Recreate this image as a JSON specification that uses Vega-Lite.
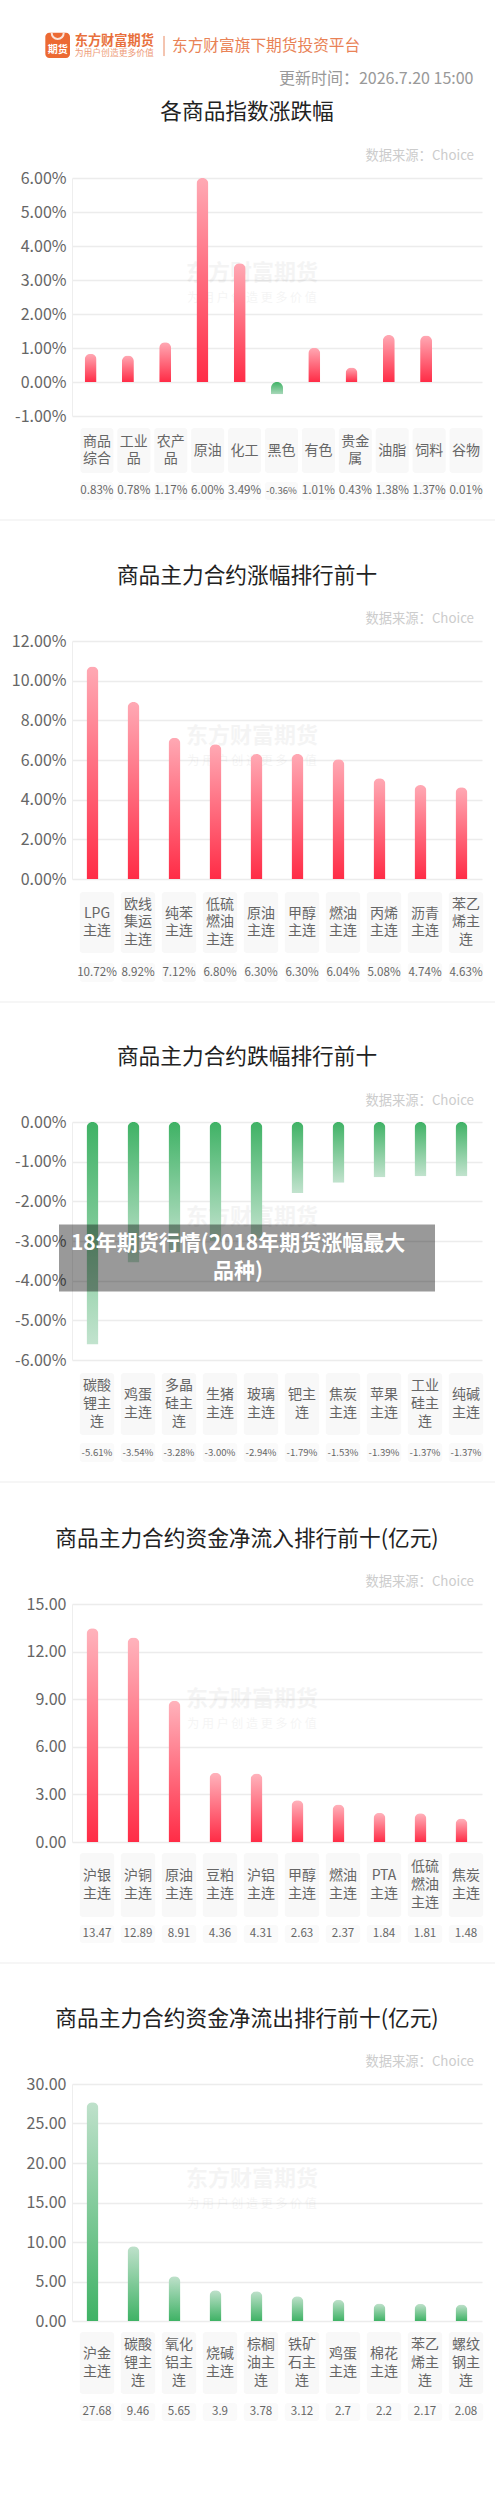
{"$schema":"https://vega.github.io/schema/vega-lite/v6.json","padding":0,"spacing":0,"bounds":"flush","background":"white","config":{"font":"Noto Sans CJK SC","view":{"stroke":null}},
"datasets":{
"p1":[{"name":"商品\n综合","v":0.83,"t":"0.83%"},{"name":"工业\n品","v":0.78,"t":"0.78%"},{"name":"农产\n品","v":1.17,"t":"1.17%"},{"name":"原油","v":6.0,"t":"6.00%"},{"name":"化工","v":3.49,"t":"3.49%"},{"name":"黑色","v":-0.36,"t":"-0.36%"},{"name":"有色","v":1.01,"t":"1.01%"},{"name":"贵金\n属","v":0.43,"t":"0.43%"},{"name":"油脂","v":1.38,"t":"1.38%"},{"name":"饲料","v":1.37,"t":"1.37%"},{"name":"谷物","v":0.01,"t":"0.01%"}],
"p2":[{"name":"LPG\n主连","v":10.72,"t":"10.72%"},{"name":"欧线\n集运\n主连","v":8.92,"t":"8.92%"},{"name":"纯苯\n主连","v":7.12,"t":"7.12%"},{"name":"低硫\n燃油\n主连","v":6.8,"t":"6.80%"},{"name":"原油\n主连","v":6.3,"t":"6.30%"},{"name":"甲醇\n主连","v":6.3,"t":"6.30%"},{"name":"燃油\n主连","v":6.04,"t":"6.04%"},{"name":"丙烯\n主连","v":5.08,"t":"5.08%"},{"name":"沥青\n主连","v":4.74,"t":"4.74%"},{"name":"苯乙\n烯主\n连","v":4.63,"t":"4.63%"}],
"p3":[{"name":"碳酸\n锂主\n连","v":-5.61,"t":"-5.61%"},{"name":"鸡蛋\n主连","v":-3.54,"t":"-3.54%"},{"name":"多晶\n硅主\n连","v":-3.28,"t":"-3.28%"},{"name":"生猪\n主连","v":-3.0,"t":"-3.00%"},{"name":"玻璃\n主连","v":-2.94,"t":"-2.94%"},{"name":"钯主\n连","v":-1.79,"t":"-1.79%"},{"name":"焦炭\n主连","v":-1.53,"t":"-1.53%"},{"name":"苹果\n主连","v":-1.39,"t":"-1.39%"},{"name":"工业\n硅主\n连","v":-1.37,"t":"-1.37%"},{"name":"纯碱\n主连","v":-1.37,"t":"-1.37%"}],
"p4":[{"name":"沪银\n主连","v":13.47,"t":"13.47"},{"name":"沪铜\n主连","v":12.89,"t":"12.89"},{"name":"原油\n主连","v":8.91,"t":"8.91"},{"name":"豆粕\n主连","v":4.36,"t":"4.36"},{"name":"沪铝\n主连","v":4.31,"t":"4.31"},{"name":"甲醇\n主连","v":2.63,"t":"2.63"},{"name":"燃油\n主连","v":2.37,"t":"2.37"},{"name":"PTA\n主连","v":1.84,"t":"1.84"},{"name":"低硫\n燃油\n主连","v":1.81,"t":"1.81"},{"name":"焦炭\n主连","v":1.48,"t":"1.48"}],
"p5":[{"name":"沪金\n主连","v":27.68,"t":"27.68"},{"name":"碳酸\n锂主\n连","v":9.46,"t":"9.46"},{"name":"氧化\n铝主\n连","v":5.65,"t":"5.65"},{"name":"烧碱\n主连","v":3.9,"t":"3.9"},{"name":"棕榈\n油主\n连","v":3.78,"t":"3.78"},{"name":"铁矿\n石主\n连","v":3.12,"t":"3.12"},{"name":"鸡蛋\n主连","v":2.7,"t":"2.7"},{"name":"棉花\n主连","v":2.2,"t":"2.2"},{"name":"苯乙\n烯主\n连","v":2.17,"t":"2.17"},{"name":"螺纹\n钢主\n连","v":2.08,"t":"2.08"}],
"one":[{"k":1}]
},
"vconcat":[
{"width":410,"height":178,"data":{"name":"one"},"layer":[
{"mark":{"type":"rect","fill":"#ec6a33","cornerRadius":4},"encoding":{"x":{"datum":-0.0651,"type":"quantitative","scale":{"domain":[0,1]},"axis":null},"x2":{"datum":-0.0049},"y":{"datum":0.1837,"type":"quantitative","scale":{"domain":[0,1],"reverse":true},"axis":null},"y2":{"datum":0.3258}}},
{"mark":{"type":"arc","fill":"#fbe3d8","innerRadius":5,"outerRadius":7,"theta":1.57,"theta2":4.71},"encoding":{"x":{"datum":-0.0349,"type":"quantitative","scale":{"domain":[0,1]},"axis":null},"y":{"datum":0.1857,"type":"quantitative","scale":{"domain":[0,1],"reverse":true},"axis":null}}},
{"mark":{"type":"rule","stroke":"#e98a62","strokeWidth":1},"encoding":{"x":{"datum":0.2244,"type":"quantitative","scale":{"domain":[0,1]},"axis":null},"y":{"datum":0.202,"type":"quantitative","scale":{"domain":[0,1],"reverse":true},"axis":null},"y2":{"datum":0.315}}},
{"mark":{"type":"text","fontSize":10,"fontWeight":"bold","fill":"white","dx":-219.3,"dy":-39},"encoding":{"text":{"value":"期货"}}},
{"mark":{"type":"text","fontSize":13.2,"fontWeight":"bold","fill":"#e8703c","align":"left","dx":-202.3,"dy":-48.5},"encoding":{"text":{"value":"东方财富期货"}}},
{"mark":{"type":"text","fontSize":8.8,"fill":"#ee9a78","align":"left","dx":-202.3,"dy":-36},"encoding":{"text":{"value":"为用户创造更多价值"}}},
{"mark":{"type":"text","fontSize":15.7,"fill":"#e98256","align":"left","dx":-105,"dy":-43},"encoding":{"text":{"value":"东方财富旗下期货投资平台"}}},
{"mark":{"type":"text","fontSize":16,"fill":"#999999","align":"right","dx":-8.5,"dy":-10},"encoding":{"x":{"value":"width"},"text":{"value":"更新时间：2026.7.20 15:00"}}},
{"mark":{"type":"text","fontSize":21.7,"fontWeight":400,"fill":"#222222","dx":-30,"dy":23},"encoding":{"text":{"value":"各商品指数涨跌幅"}}},
{"mark":{"type":"text","fontSize":13.3,"fill":"#cccccc","align":"right","dx":-8,"dy":66.7},"encoding":{"x":{"value":"width"},"text":{"value":"数据来源：Choice"}}}
]},
{"width":410,"height":238,"layer":[
{"data":{"name":"one"},"mark":{"type":"text","fontSize":22,"fontWeight":"bold","fill":"#000","opacity":0.04,"dx":-25,"dy":-24},"encoding":{"text":{"value":"东方财富期货"}}},
{"data":{"name":"one"},"mark":{"type":"text","fontSize":12,"fill":"#000","opacity":0.04,"dx":-25,"dy":1},"encoding":{"text":{"value":"为 用 户 创 造 更 多 价 值"}}},
{"data":{"name":"p1"},"transform":[{"filter":"datum.v>=0"}],"mark":{"type":"bar","width":12,"cornerRadiusEnd":6,"color":{"gradient":"linear","x1":0,"y1":0,"x2":0,"y2":1,"stops":[{"offset":0,"color":"#ffa9b4"},{"offset":1,"color":"#ff2c46"}]}},"encoding":{"x":{"field":"name","type":"nominal","sort":null,"axis":null,"scale":{"domain":["商品\n综合","工业\n品","农产\n品","原油","化工","黑色","有色","贵金\n属","油脂","饲料","谷物"]}},"y":{"field":"v","type":"quantitative","scale":{"domain":[-1,6],"nice":false},"axis":{"title":null,"grid":true,"gridColor":"#ececec","gridWidth":1.3,"domainColor":"#eeeeee","ticks":false,"labelPadding":6,"labelFontSize":16,"labelColor":"#666666","labelOverlap":false,"tickCount":20,"values":[-1,0,1,2,3,4,5,6],"labelExpr":"replace(format(datum.value,'.2f'),'−','-')+'%'"}}}},
{"data":{"name":"p1"},"transform":[{"filter":"datum.v<0"}],"mark":{"type":"bar","width":12,"cornerRadiusEnd":6,"color":{"gradient":"linear","x1":0,"y1":0,"x2":0,"y2":1,"stops":[{"offset":0,"color":"#3fb265"},{"offset":1,"color":"#a9d8ba"}]}},"encoding":{"x":{"field":"name","type":"nominal","sort":null,"axis":null},"y":{"field":"v","type":"quantitative"}}}
]},
{"width":410,"height":12,"data":{"name":"one"},"mark":"text","encoding":{"text":{"value":""}}},
{"width":410,"height":45,"data":{"name":"p1"},"encoding":{"x":{"field":"name","type":"nominal","sort":null,"axis":null,"scale":{"range":[6.5,412.5],"paddingInner":0.105,"paddingOuter":0.0525}}},"layer":[{"mark":{"type":"rect","fill":"#f8f8f8","cornerRadius":3}},{"transform":[{"filter":"length(split(datum.name,'\\n'))==1"}],"mark":{"type":"text","fontSize":14,"fill":"#666666","lineBreak":"\n","lineHeight":17.7},"encoding":{"text":{"field":"name"}}},{"transform":[{"filter":"length(split(datum.name,'\\n'))==2"}],"mark":{"type":"text","fontSize":14,"fill":"#666666","lineBreak":"\n","lineHeight":17.7,"dy":-8.85},"encoding":{"text":{"field":"name"}}}]},
{"width":410,"height":9,"data":{"name":"one"},"mark":"text","encoding":{"text":{"value":""}}},
{"width":410,"height":18,"data":{"name":"p1"},"encoding":{"x":{"field":"name","type":"nominal","sort":null,"axis":null,"scale":{"range":[6.5,412.5],"paddingInner":0.105,"paddingOuter":0.0525}}},"layer":[{"mark":{"type":"rect","fill":"#fafafa","cornerRadius":3}},{"mark":{"type":"text","fill":"#666666"},"encoding":{"text":{"field":"t"},"size":{"condition":{"test":"datum.v<0","value":9.6},"value":11.6}}}]},

{"width":410,"height":19,"data":{"name":"one"},"mark":"text","encoding":{"text":{"value":""}}},
{"width":410,"height":2,"data":{"name":"one"},"mark":{"type":"rect","fill":"#f6f6f6"},"encoding":{"x":{"datum":-0.1756,"type":"quantitative","scale":{"domain":[0,1]},"axis":null},"x2":{"datum":1.0317}}},
{"width":410,"height":120,"data":{"name":"one"},"layer":[
{"mark":{"type":"text","fontSize":21.7,"fontWeight":400,"fill":"#222222","dx":-30,"dy":-5},"encoding":{"text":{"value":"商品主力合约涨幅排行前十"}}},
{"mark":{"type":"text","fontSize":13.3,"fill":"#cccccc","align":"right","dx":-8,"dy":38},"encoding":{"x":{"value":"width"},"text":{"value":"数据来源：Choice"}}}]},
{"width":410,"height":238,"layer":[
{"data":{"name":"one"},"mark":{"type":"text","fontSize":22,"fontWeight":"bold","fill":"#000","opacity":0.04,"dx":-25,"dy":-24},"encoding":{"text":{"value":"东方财富期货"}}},
{"data":{"name":"one"},"mark":{"type":"text","fontSize":12,"fill":"#000","opacity":0.04,"dx":-25,"dy":1},"encoding":{"text":{"value":"为 用 户 创 造 更 多 价 值"}}},
{"data":{"name":"p2"},"mark":{"type":"bar","width":12,"cornerRadiusEnd":6,"color":{"gradient":"linear","x1":0,"y1":0,"x2":0,"y2":1,"stops":[{"offset":0,"color":"#ffa9b4"},{"offset":1,"color":"#ff2c46"}]}},"encoding":{"x":{"field":"name","type":"nominal","sort":null,"axis":null},"y":{"field":"v","type":"quantitative","scale":{"domain":[0,12],"nice":false},"axis":{"title":null,"grid":true,"gridColor":"#ececec","gridWidth":1.3,"domainColor":"#eeeeee","ticks":false,"labelPadding":6,"labelFontSize":16,"labelColor":"#666666","labelOverlap":false,"tickCount":20,"values":[0,2,4,6,8,10,12],"labelExpr":"replace(format(datum.value,'.2f'),'−','-')+'%'"}}}}
]},
{"width":410,"height":13,"data":{"name":"one"},"mark":"text","encoding":{"text":{"value":""}}},
{"width":410,"height":61,"data":{"name":"p2"},"encoding":{"x":{"field":"name","type":"nominal","sort":null,"axis":null,"scale":{"range":[4.5,414.5],"paddingInner":0.16,"paddingOuter":0.08}}},"layer":[{"mark":{"type":"rect","fill":"#f8f8f8","cornerRadius":3}},{"transform":[{"filter":"length(split(datum.name,'\\n'))==2"}],"mark":{"type":"text","fontSize":14,"fill":"#666666","lineBreak":"\n","lineHeight":17.7,"dy":-8.85},"encoding":{"text":{"field":"name"}}},{"transform":[{"filter":"length(split(datum.name,'\\n'))==3"}],"mark":{"type":"text","fontSize":14,"fill":"#666666","lineBreak":"\n","lineHeight":17.7,"dy":-17.7},"encoding":{"text":{"field":"name"}}}]},
{"width":410,"height":10,"data":{"name":"one"},"mark":"text","encoding":{"text":{"value":""}}},
{"width":410,"height":19,"data":{"name":"p2"},"encoding":{"x":{"field":"name","type":"nominal","sort":null,"axis":null,"scale":{"range":[4.5,414.5],"paddingInner":0.16,"paddingOuter":0.08}}},"layer":[{"mark":{"type":"rect","fill":"#fafafa","cornerRadius":3}},{"mark":{"type":"text","fontSize":11.6,"fill":"#666666"},"encoding":{"text":{"field":"t"}}}]},

{"width":410,"height":19,"data":{"name":"one"},"mark":"text","encoding":{"text":{"value":""}}},
{"width":410,"height":2,"data":{"name":"one"},"mark":{"type":"rect","fill":"#f6f6f6"},"encoding":{"x":{"datum":-0.1756,"type":"quantitative","scale":{"domain":[0,1]},"axis":null},"x2":{"datum":1.0317}}},
{"width":410,"height":119,"data":{"name":"one"},"layer":[
{"mark":{"type":"text","fontSize":21.7,"fontWeight":400,"fill":"#222222","dx":-30,"dy":-5.5},"encoding":{"text":{"value":"商品主力合约跌幅排行前十"}}},
{"mark":{"type":"text","fontSize":13.3,"fill":"#cccccc","align":"right","dx":-8,"dy":38.2},"encoding":{"x":{"value":"width"},"text":{"value":"数据来源：Choice"}}}]},
{"width":410,"height":238,"resolve":{"scale":{"x":"independent"}},"layer":[
{"data":{"name":"one"},"mark":{"type":"text","fontSize":22,"fontWeight":"bold","fill":"#000","opacity":0.04,"dx":-25,"dy":-24},"encoding":{"text":{"value":"东方财富期货"}}},
{"data":{"name":"one"},"mark":{"type":"text","fontSize":12,"fill":"#000","opacity":0.04,"dx":-25,"dy":1},"encoding":{"text":{"value":"为 用 户 创 造 更 多 价 值"}}},
{"data":{"name":"p3"},"mark":{"type":"bar","width":12,"cornerRadiusEnd":6,"color":{"gradient":"linear","x1":0,"y1":0,"x2":0,"y2":1,"stops":[{"offset":0,"color":"#3fb265"},{"offset":1,"color":"#c2e3ce"}]}},"encoding":{"x":{"field":"name","type":"nominal","sort":null,"axis":null},"y":{"field":"v","type":"quantitative","scale":{"domain":[-6,0],"nice":false},"axis":{"title":null,"grid":true,"gridColor":"#ececec","gridWidth":1.3,"domainColor":"#eeeeee","ticks":false,"labelPadding":6,"labelFontSize":16,"labelColor":"#666666","labelOverlap":false,"tickCount":20,"values":[0,-1,-2,-3,-4,-5,-6],"labelExpr":"replace(format(datum.value,'.2f'),'−','-')+'%'"}}}},
{"data":{"name":"one"},"mark":{"type":"rect","fill":"#000000","opacity":0.4},"encoding":{"x":{"datum":-0.0317,"type":"quantitative","scale":{"domain":[0,1]},"axis":null},"x2":{"datum":0.8854},"y":{"datum":-2.587,"type":"quantitative","scale":{"domain":[-6,0],"nice":false}},"y2":{"datum":-4.275}}},
{"data":{"name":"one"},"mark":{"type":"text","fontSize":21,"fontWeight":"bold","fill":"white","lineBreak":"\n","lineHeight":27.5},"encoding":{"x":{"datum":0.405,"type":"quantitative","scale":{"domain":[0,1]},"axis":null},"y":{"datum":-3.08,"type":"quantitative","scale":{"domain":[-6,0],"nice":false}},"text":{"value":"18年期货行情(2018年期货涨幅最大\n品种)"}}}
]},
{"width":410,"height":13,"data":{"name":"one"},"mark":"text","encoding":{"text":{"value":""}}},
{"width":410,"height":62,"data":{"name":"p3"},"encoding":{"x":{"field":"name","type":"nominal","sort":null,"axis":null,"scale":{"range":[4.5,414.5],"paddingInner":0.16,"paddingOuter":0.08}}},"layer":[{"mark":{"type":"rect","fill":"#f8f8f8","cornerRadius":3}},{"transform":[{"filter":"length(split(datum.name,'\\n'))==2"}],"mark":{"type":"text","fontSize":14,"fill":"#666666","lineBreak":"\n","lineHeight":17.7,"dy":-8.85},"encoding":{"text":{"field":"name"}}},{"transform":[{"filter":"length(split(datum.name,'\\n'))==3"}],"mark":{"type":"text","fontSize":14,"fill":"#666666","lineBreak":"\n","lineHeight":17.7,"dy":-17.7},"encoding":{"text":{"field":"name"}}}]},
{"width":410,"height":8,"data":{"name":"one"},"mark":"text","encoding":{"text":{"value":""}}},
{"width":410,"height":19,"data":{"name":"p3"},"encoding":{"x":{"field":"name","type":"nominal","sort":null,"axis":null,"scale":{"range":[4.5,414.5],"paddingInner":0.16,"paddingOuter":0.08}}},"layer":[{"mark":{"type":"rect","fill":"#fafafa","cornerRadius":3}},{"mark":{"type":"text","fontSize":9.6,"fill":"#666666"},"encoding":{"text":{"field":"t"}}}]},

{"width":410,"height":19,"data":{"name":"one"},"mark":"text","encoding":{"text":{"value":""}}},
{"width":410,"height":2,"data":{"name":"one"},"mark":{"type":"rect","fill":"#f6f6f6"},"encoding":{"x":{"datum":-0.1756,"type":"quantitative","scale":{"domain":[0,1]},"axis":null},"x2":{"datum":1.0317}}},
{"width":410,"height":121,"data":{"name":"one"},"layer":[
{"mark":{"type":"text","fontSize":21.7,"fontWeight":400,"fill":"#222222","dx":-30,"dy":-4.5},"encoding":{"text":{"value":"商品主力合约资金净流入排行前十(亿元)"}}},
{"mark":{"type":"text","fontSize":13.3,"fill":"#cccccc","align":"right","dx":-8,"dy":38.2},"encoding":{"x":{"value":"width"},"text":{"value":"数据来源：Choice"}}}]},
{"width":410,"height":238,"layer":[
{"data":{"name":"one"},"mark":{"type":"text","fontSize":22,"fontWeight":"bold","fill":"#000","opacity":0.04,"dx":-25,"dy":-24},"encoding":{"text":{"value":"东方财富期货"}}},
{"data":{"name":"one"},"mark":{"type":"text","fontSize":12,"fill":"#000","opacity":0.04,"dx":-25,"dy":1},"encoding":{"text":{"value":"为 用 户 创 造 更 多 价 值"}}},
{"data":{"name":"p4"},"mark":{"type":"bar","width":12,"cornerRadiusEnd":6,"color":{"gradient":"linear","x1":0,"y1":0,"x2":0,"y2":1,"stops":[{"offset":0,"color":"#ffb3bc"},{"offset":1,"color":"#ff2c46"}]}},"encoding":{"x":{"field":"name","type":"nominal","sort":null,"axis":null},"y":{"field":"v","type":"quantitative","scale":{"domain":[0,15],"nice":false},"axis":{"title":null,"grid":true,"gridColor":"#ececec","gridWidth":1.3,"domainColor":"#eeeeee","ticks":false,"labelPadding":6,"labelFontSize":16,"labelColor":"#666666","labelOverlap":false,"tickCount":20,"values":[0,3,6,9,12,15],"format":".2f"}}}}
]},
{"width":410,"height":11,"data":{"name":"one"},"mark":"text","encoding":{"text":{"value":""}}},
{"width":410,"height":64,"data":{"name":"p4"},"encoding":{"x":{"field":"name","type":"nominal","sort":null,"axis":null,"scale":{"range":[4.5,414.5],"paddingInner":0.16,"paddingOuter":0.08}}},"layer":[{"mark":{"type":"rect","fill":"#f8f8f8","cornerRadius":3}},{"transform":[{"filter":"length(split(datum.name,'\\n'))==2"}],"mark":{"type":"text","fontSize":14,"fill":"#666666","lineBreak":"\n","lineHeight":17.7,"dy":-8.85},"encoding":{"text":{"field":"name"}}},{"transform":[{"filter":"length(split(datum.name,'\\n'))==3"}],"mark":{"type":"text","fontSize":14,"fill":"#666666","lineBreak":"\n","lineHeight":17.7,"dy":-17.7},"encoding":{"text":{"field":"name"}}}]},
{"width":410,"height":8,"data":{"name":"one"},"mark":"text","encoding":{"text":{"value":""}}},
{"width":410,"height":18,"data":{"name":"p4"},"encoding":{"x":{"field":"name","type":"nominal","sort":null,"axis":null,"scale":{"range":[4.5,414.5],"paddingInner":0.16,"paddingOuter":0.08}}},"layer":[{"mark":{"type":"rect","fill":"#fafafa","cornerRadius":3}},{"mark":{"type":"text","fontSize":11.6,"fill":"#666666"},"encoding":{"text":{"field":"t"}}}]},

{"width":410,"height":19,"data":{"name":"one"},"mark":"text","encoding":{"text":{"value":""}}},
{"width":410,"height":2,"data":{"name":"one"},"mark":{"type":"rect","fill":"#f6f6f6"},"encoding":{"x":{"datum":-0.1756,"type":"quantitative","scale":{"domain":[0,1]},"axis":null},"x2":{"datum":1.0317}}},
{"width":410,"height":120,"data":{"name":"one"},"layer":[
{"mark":{"type":"text","fontSize":21.7,"fontWeight":400,"fill":"#222222","dx":-30,"dy":-4.7},"encoding":{"text":{"value":"商品主力合约资金净流出排行前十(亿元)"}}},
{"mark":{"type":"text","fontSize":13.3,"fill":"#cccccc","align":"right","dx":-8,"dy":38.3},"encoding":{"x":{"value":"width"},"text":{"value":"数据来源：Choice"}}}]},
{"width":410,"height":237,"layer":[
{"data":{"name":"one"},"mark":{"type":"text","fontSize":22,"fontWeight":"bold","fill":"#000","opacity":0.04,"dx":-25,"dy":-24},"encoding":{"text":{"value":"东方财富期货"}}},
{"data":{"name":"one"},"mark":{"type":"text","fontSize":12,"fill":"#000","opacity":0.04,"dx":-25,"dy":1},"encoding":{"text":{"value":"为 用 户 创 造 更 多 价 值"}}},
{"data":{"name":"p5"},"mark":{"type":"bar","width":12,"cornerRadiusEnd":6,"color":{"gradient":"linear","x1":0,"y1":0,"x2":0,"y2":1,"stops":[{"offset":0,"color":"#bfe1cb"},{"offset":1,"color":"#3fb265"}]}},"encoding":{"x":{"field":"name","type":"nominal","sort":null,"axis":null},"y":{"field":"v","type":"quantitative","scale":{"domain":[0,30],"nice":false},"axis":{"title":null,"grid":true,"gridColor":"#ececec","gridWidth":1.3,"domainColor":"#eeeeee","ticks":false,"labelPadding":6,"labelFontSize":16,"labelColor":"#666666","labelOverlap":false,"tickCount":20,"values":[0,5,10,15,20,25,30],"format":".2f"}}}}
]},
{"width":410,"height":11,"data":{"name":"one"},"mark":"text","encoding":{"text":{"value":""}}},
{"width":410,"height":62,"data":{"name":"p5"},"encoding":{"x":{"field":"name","type":"nominal","sort":null,"axis":null,"scale":{"range":[4.5,414.5],"paddingInner":0.16,"paddingOuter":0.08}}},"layer":[{"mark":{"type":"rect","fill":"#f8f8f8","cornerRadius":3}},{"transform":[{"filter":"length(split(datum.name,'\\n'))==2"}],"mark":{"type":"text","fontSize":14,"fill":"#666666","lineBreak":"\n","lineHeight":17.7,"dy":-8.85},"encoding":{"text":{"field":"name"}}},{"transform":[{"filter":"length(split(datum.name,'\\n'))==3"}],"mark":{"type":"text","fontSize":14,"fill":"#666666","lineBreak":"\n","lineHeight":17.7,"dy":-17.7},"encoding":{"text":{"field":"name"}}}]},
{"width":410,"height":9,"data":{"name":"one"},"mark":"text","encoding":{"text":{"value":""}}},
{"width":410,"height":18,"data":{"name":"p5"},"encoding":{"x":{"field":"name","type":"nominal","sort":null,"axis":null,"scale":{"range":[4.5,414.5],"paddingInner":0.16,"paddingOuter":0.08}}},"layer":[{"mark":{"type":"rect","fill":"#fafafa","cornerRadius":3}},{"mark":{"type":"text","fontSize":11.6,"fill":"#666666"},"encoding":{"text":{"field":"t"}}}]},
{"width":410,"height":96,"data":{"name":"one"},"mark":"text","encoding":{"text":{"value":""}}}
]}
